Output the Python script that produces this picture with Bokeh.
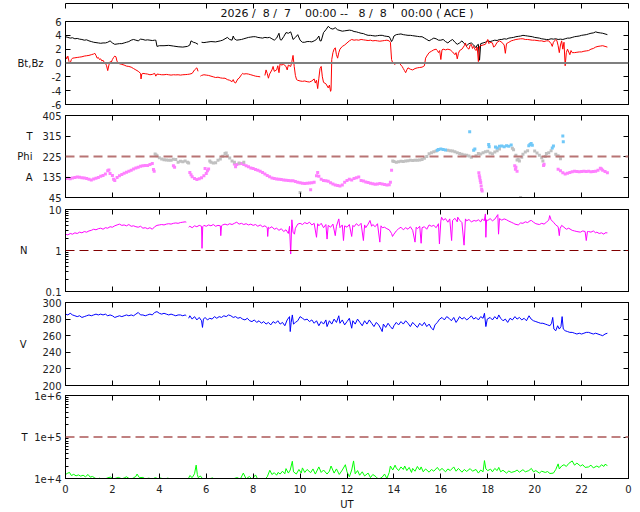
import numpy as np
from bokeh.plotting import figure
from bokeh.layouts import column
from bokeh.models import Range1d, LinearAxis, LogAxis, FixedTicker, Span, Title
from bokeh.embed import file_html
from bokeh.resources import INLINE

nan = float("nan")
FONT = "DejaVu Sans"
NB = "\u00a0"

TITLE = ("2026 /" + NB + " 8 /" + NB + " 7 " + NB + " " + NB + "00:00 --" + NB + " " + NB + "8 /" + NB + " 8 "
         + NB + " " + NB + "00:00 ( ACE )")
X_TICKS = [0, 2, 4, 6, 8, 10, 12, 14, 16, 18, 20, 22, 24]
X_LABELS = {24: "0"}

# ---------------- Bt (black) ----------------
bt_t = [0.0,0.1,0.2,0.3,0.4,0.5,0.6,0.7,0.8,0.9,1.0,1.1,1.2,1.3,1.4,1.5,1.6,1.7,1.8,1.9,2.0,2.1,2.2,2.3,2.4,2.5,2.6,2.7,2.8,2.9,
        3.0,3.1,3.2,3.3,3.4,3.5,3.6,3.7,3.8,3.85,3.9,4.0,4.2,4.4,4.6,4.8,5.0,5.2,5.3,5.35,5.45,5.55,5.65,5.72,5.8,5.9,6.0,6.2,6.4,6.6,
        6.7,6.8,6.9,7.0,7.1,7.15,7.2,7.3,7.4,7.5,7.6,7.7,7.8,7.9,8.0,8.1,8.2,8.3,8.4,8.5,8.6,8.7,8.8,8.9,9.0,9.1,9.15,9.2,9.3,9.4,
        9.5,9.6,9.65,9.7,9.8,9.9,10.0,10.1,10.2,10.3,10.4,10.5,10.6,10.7,10.8,10.85,10.9,11.0,11.1,11.2,11.3,11.4,11.5,11.6,11.7,11.8,11.9,12.0,12.1,12.2,
        12.3,12.4,12.5,12.6,12.7,12.8,12.9,13.0,13.1,13.2,13.3,13.4,13.5,13.6,13.7,13.8,13.85,13.9,13.95,14.0,14.1,14.2,14.3,14.4,14.5,14.6,14.7,14.8,14.9,15.0,
        15.1,15.2,15.3,15.4,15.5,15.6,15.7,15.8,15.9,16.0,16.1,16.2,16.3,16.4,16.5,16.6,16.7,16.8,16.9,17.0,17.1,17.2,17.3,17.4,17.5,17.55,17.6,17.65,17.7,17.8,
        17.9,18.0,18.1,18.2,18.3,18.4,18.5,18.6,18.7,18.8,18.9,19.0,19.1,19.2,19.3,19.4,19.5,19.6,19.7,19.8,19.9,20.0,20.1,20.2,20.3,20.4,20.5,20.6,20.7,20.8,
        20.9,21.0,21.1,21.2,21.3,21.4,21.5,21.6,21.7,21.8,21.9,22.0,22.1,22.2,22.3,22.4,22.5,22.6,22.7,22.8,22.9,23.0,23.1]
bt = [3.8,3.7,3.6,3.65,3.5,3.55,3.45,3.4,3.3,3.35,3.2,3.1,3.0,2.95,2.9,2.85,2.9,2.9,3.0,3.2,2.9,2.7,2.75,2.8,2.8,2.9,3.0,3.1,3.3,3.4,
      3.3,3.2,3.45,3.4,3.3,3.35,3.3,3.25,3.3,3.3,2.4,2.5,2.5,2.55,2.45,2.35,2.3,2.4,2.6,3.2,3.0,2.9,2.7,nan,3.0,2.95,3.0,3.1,3.05,3.2,
      3.3,3.5,3.7,3.4,3.3,3.9,3.5,3.3,3.35,3.4,3.5,3.6,3.7,3.75,3.8,3.8,3.7,3.65,3.6,3.7,3.65,3.7,3.5,3.3,3.6,4.3,3.4,3.3,3.8,4.4,
      4.3,4.5,4.0,3.4,3.7,4.1,3.3,3.0,3.0,3.1,3.1,3.05,3.2,3.4,3.9,3.2,3.2,4.4,4.8,5.3,5.0,4.9,5.1,4.8,4.7,4.6,4.65,4.7,4.75,4.7,
      4.55,4.5,4.4,4.3,4.25,4.1,4.0,4.0,3.95,3.9,3.95,4.0,4.0,3.9,3.85,3.8,3.5,3.1,3.4,3.9,4.1,4.15,4.2,4.1,4.05,4.0,4.0,3.95,3.9,3.85,
      3.8,3.8,3.6,3.4,3.2,3.4,3.6,3.5,3.3,3.3,3.4,3.1,2.9,3.2,3.4,3.0,2.7,2.9,3.2,2.8,2.5,2.8,2.9,2.6,2.2,2.6,2.7,0.4,2.8,2.9,
      3.0,3.2,3.1,3.2,3.3,3.25,3.4,3.4,3.5,3.45,3.6,3.65,3.7,3.8,3.85,3.9,4.0,3.95,3.9,3.85,3.8,3.7,3.65,3.6,3.5,3.45,3.4,3.4,3.5,3.45,
      3.5,3.4,3.45,3.4,3.5,3.6,3.6,3.7,3.8,3.85,3.9,4.0,4.05,4.1,4.2,4.3,4.35,4.5,4.4,4.35,4.3,4.2,4.1]

# ---------------- Bz (red) ----------------
bz_t = [0.0,0.05,0.1,0.15,0.2,0.25,0.3,0.4,0.5,0.6,0.7,0.8,0.9,1.0,1.1,1.2,1.25,1.3,1.35,1.4,1.45,1.5,1.55,1.6,1.65,1.7,1.75,1.8,1.85,1.9,
        1.95,2.0,2.05,2.1,2.15,2.2,2.3,2.4,2.5,2.6,2.7,2.8,2.9,3.0,3.1,3.2,3.22,3.25,3.3,3.4,3.5,3.6,3.7,3.8,3.85,3.9,4.0,4.1,4.2,4.3,
        4.4,4.5,4.6,4.7,4.8,4.9,5.0,5.1,5.2,5.3,5.4,5.5,5.6,5.65,5.7,5.75,5.8,5.9,6.0,6.1,6.2,6.3,6.4,6.5,6.6,6.7,6.8,6.9,7.0,7.1,
        7.15,7.2,7.25,7.3,7.35,7.4,7.5,7.55,7.6,7.7,7.8,7.9,8.0,8.1,8.2,8.3,8.4,8.5,8.55,8.6,8.65,8.7,8.8,8.85,8.9,9.0,9.05,9.1,9.15,9.2,
        9.3,9.4,9.45,9.5,9.6,9.65,9.7,9.75,9.8,9.85,9.9,10.0,10.1,10.2,10.3,10.4,10.5,10.6,10.65,10.7,10.75,10.8,10.85,10.9,10.95,11.0,11.1,11.2,11.25,11.3,
        11.32,11.35,11.4,11.45,11.5,11.55,11.6,11.65,11.7,11.8,11.9,12.0,12.1,12.2,12.3,12.4,12.5,12.6,12.7,12.8,12.9,13.0,13.1,13.2,13.3,13.4,13.5,13.6,13.7,13.8,
        13.85,13.9,13.95,14.0,14.05,14.1,14.15,14.2,14.3,14.35,14.4,14.45,14.5,14.55,14.6,14.7,14.8,14.9,15.0,15.1,15.2,15.3,15.35,15.4,15.5,15.6,15.7,15.8,15.85,15.9,
        15.95,16.0,16.05,16.1,16.2,16.3,16.4,16.5,16.6,16.65,16.7,16.75,16.8,16.9,17.0,17.05,17.1,17.2,17.25,17.3,17.35,17.4,17.45,17.5,17.55,17.6,17.65,17.7,17.8,17.9,
        18.0,18.05,18.1,18.2,18.25,18.3,18.4,18.5,18.6,18.7,18.75,18.8,18.9,19.0,19.1,19.2,19.3,19.4,19.5,19.6,19.7,19.8,19.9,20.0,20.1,20.2,20.3,20.4,20.5,20.6,
        20.7,20.75,20.8,20.9,20.95,21.0,21.05,21.1,21.15,21.2,21.25,21.3,21.35,21.4,21.45,21.5,21.55,21.6,21.7,21.8,21.9,22.0,22.1,22.2,22.3,22.4,22.5,22.6,22.7,22.8,
        22.9,23.0,23.1]
bz = [1.0,0.6,1.0,0.2,0.0,0.5,0.7,0.75,0.8,0.85,0.9,1.0,1.05,1.1,1.2,1.3,1.4,1.1,0.7,0.8,0.5,0.6,0.3,0.4,0.1,0.0,-0.4,-1.1,-0.3,0.2,
      0.1,0.5,0.8,1.0,0.9,0.2,-0.1,-0.2,-0.3,-0.45,-0.5,-0.6,-0.8,-1.0,-1.2,-1.5,-2.3,-1.6,-1.5,-1.55,-1.6,-1.7,-1.65,-1.5,-1.9,-1.6,-1.65,-1.7,-1.7,-1.65,
      -1.7,-1.75,-1.7,-1.72,-1.7,-1.75,-1.7,-1.68,-1.65,-1.6,-1.5,-1.0,-0.7,-1.2,nan,-1.9,-1.8,-1.7,-1.75,-1.8,-1.9,-2.0,-2.1,-2.05,-2.15,-2.2,-2.2,-2.4,-2.5,-2.7,
      -2.4,-2.8,-2.9,-2.6,-2.3,-2.2,-1.7,-1.5,-1.6,-1.55,-1.6,-1.7,-1.8,-1.9,-1.95,-2.0,nan,-1.8,-1.0,-1.5,-2.2,-1.6,-1.0,-0.5,-1.2,-1.0,-0.4,-1.4,0.0,-0.3,
      -0.2,-0.5,-1.0,-0.3,-0.5,0.2,1.1,-0.5,-1.8,-2.4,-2.5,-2.6,-2.65,-2.6,-2.7,-2.75,-2.6,-2.3,-2.9,-2.5,-3.7,-2.2,-0.8,-0.5,-2.0,-2.8,-3.0,-3.6,-3.2,-4.1,
      -3.9,0.5,1.5,2.0,2.2,1.2,0.7,1.5,2.0,2.4,2.6,2.9,3.2,3.4,3.3,3.35,3.3,3.4,3.35,3.3,3.25,3.3,3.2,3.25,3.2,3.15,3.2,3.25,3.3,3.2,
      3.0,0.5,0.0,-0.1,-0.2,0.1,-0.1,0.1,-0.3,-0.5,-0.8,-1.1,-1.4,-1.0,-0.7,-0.9,-1.0,-0.8,-0.7,-0.65,-0.6,-0.4,0.7,1.0,1.5,1.7,1.9,2.0,1.8,1.5,
      1.8,0.5,1.9,2.0,1.9,2.0,1.9,1.6,1.2,1.5,0.6,1.4,1.8,2.0,2.5,2.9,2.3,2.0,2.6,2.7,2.1,2.4,2.0,1.8,2.3,0.2,2.4,2.5,2.6,2.7,
      3.4,2.8,3.0,2.9,2.3,2.4,3.0,3.2,3.0,2.6,1.4,2.8,3.0,3.2,3.3,3.4,3.45,3.5,3.5,3.4,3.4,3.35,3.3,3.3,3.25,3.2,3.2,3.1,3.2,3.2,
      2.8,2.4,3.0,3.4,3.2,2.5,1.5,2.6,3.2,2.0,3.0,-0.4,1.5,2.0,1.6,1.2,1.8,1.5,1.5,1.55,1.6,1.6,1.7,1.75,1.8,2.0,2.1,2.3,2.4,2.45,
      2.5,2.4,2.3]

# ---------------- Phi (three colour groups) ----------------
phi_m_t = [0.0,0.1,0.2,0.3,0.4,0.5,0.6,0.7,0.8,0.9,1.0,1.1,1.2,1.3,1.4,1.5,1.6,1.7,1.8,1.85,1.9,2.0,2.05,2.1,2.2,2.3,2.4,2.5,2.6,2.7,
           2.8,2.9,3.0,3.1,3.2,3.3,3.4,3.5,3.6,3.7,3.75,3.78,4.6,4.65,5.3,5.35,5.4,5.5,5.6,5.7,5.8,5.9,5.95,6.0,6.05,6.1,7.2,7.25,7.3,7.4,
           7.5,7.6,7.7,7.8,7.9,8.0,8.1,8.2,8.3,8.4,8.5,8.6,8.7,8.8,8.9,9.0,9.1,9.2,9.3,9.4,9.5,9.6,9.7,9.8,9.9,10.0,10.1,10.2,10.3,10.4,
           10.45,10.5,10.6,10.7,10.75,10.8,10.9,11.0,11.1,11.2,11.3,11.4,11.5,11.6,11.7,11.8,11.9,12.0,12.1,12.2,12.3,12.4,12.5,12.6,12.7,12.8,12.9,13.0,13.1,13.2,
           13.3,13.4,13.5,13.6,13.7,13.8,13.85,13.9,17.62,17.64,17.66,17.68,17.7,17.72,17.74,17.76,19.15,19.18,19.2,19.25,20.38,20.4,21.0,21.1,21.2,21.3,21.4,21.5,
           21.6,21.7,21.8,21.9,22.0,22.1,22.2,22.3,22.4,22.5,22.6,22.7,22.8,22.85,22.9,23.0,23.1]
phi_m = [128,130,127,131,133,135,134,132,131,128,125,122,126,130,133,138,142,148,162,166,150,142,125,120,133,140,146,152,156,160,
         165,170,174,178,182,184,186,186,190,194,168,160,184,178,155,145,136,128,124,127,132,140,172,150,162,170,192,180,190,193,
         194,190,184,180,175,172,168,165,160,155,148,142,136,131,128,126,125,124,122,121,120,119,118,115,112,110,108,107,108,109,
         79,110,112,140,155,138,125,120,118,116,110,104,100,98,96,100,112,120,125,122,128,132,135,120,117,113,111,108,105,103,
         104,106,104,102,100,101,112,165,154,140,132,120,111,95,80,74,184,169,178,160,185,191,169,162,154,148,152,155,
         158,160,159,158,159,160,159,160,158,159,160,165,173,170,165,159,154]
phi_g_t = [3.82,3.86,3.9,4.0,4.1,4.2,4.3,4.4,4.5,4.6,4.7,4.8,4.9,5.0,5.1,5.2,5.25,6.15,6.2,6.3,6.4,6.5,6.6,6.7,6.8,6.85,6.9,7.0,7.1,7.2,
           7.4,7.6,10.0,13.95,14.0,14.1,14.2,14.3,14.4,14.5,14.6,14.7,14.8,14.9,15.0,15.1,15.2,15.3,15.4,15.5,15.6,15.7,15.8,16.3,16.4,16.5,16.6,16.7,16.8,16.9,
           17.0,17.1,17.2,17.3,17.5,17.6,17.7,17.8,17.9,18.0,18.1,18.2,18.3,18.4,18.5,19.05,19.1,19.2,19.25,19.3,19.35,19.4,19.45,19.5,19.6,19.7,20.0,20.1,20.2,20.3,
           20.35,20.45,20.5,20.6,20.7,20.9,21.0,21.1]
phi_g = [236,232,228,220,214,211,210,208,209,213,212,200,204,202,205,200,196,205,200,196,198,208,214,226,238,240,228,218,205,200,
         196,200,67,205,203,200,202,204,203,205,206,208,207,209,208,210,212,217,225,237,242,246,249,252,250,249,246,242,238,235,
         232,230,227,222,228,238,236,242,246,248,240,237,245,250,258,261,255,230,210,213,205,45,222,235,245,250,249,240,230,220,
         205,225,238,242,250,235,228,215]
phi_b_t = [15.85,15.9,16.0,16.1,16.2,17.23,17.4,17.45,18.04,18.06,18.33,18.4,18.5,18.6,18.7,18.8,18.9,19.0,19.75,19.8,19.85,19.9,20.75,20.8,21.2,21.22]
phi_b = [252,256,258,256,254,334,252,258,278,268,267,262,270,271,268,272,270,275,272,278,282,274,262,271,315,290]

# ---------------- N ----------------
n_t = [0.0,0.1,0.2,0.3,0.4,0.5,0.6,0.7,0.8,0.9,1.0,1.1,1.2,1.3,1.4,1.5,1.6,1.7,1.8,1.9,2.0,2.1,2.2,2.3,2.4,2.5,2.6,2.7,2.8,2.9,
       3.0,3.1,3.2,3.3,3.4,3.5,3.6,3.7,3.8,3.9,4.0,4.1,4.2,4.3,4.4,4.5,4.6,4.7,4.8,4.9,5.0,5.1,5.15,5.2,5.25,5.3,5.4,5.5,5.6,5.7,
       5.8,5.82,5.85,5.9,6.0,6.1,6.2,6.3,6.4,6.5,6.6,6.62,6.65,6.7,6.8,6.9,7.0,7.1,7.2,7.3,7.4,7.5,7.6,7.7,7.8,7.9,8.0,8.1,8.2,8.3,
       8.4,8.5,8.6,8.62,8.65,8.7,8.8,8.9,9.0,9.1,9.2,9.3,9.4,9.5,9.55,9.6,9.65,9.7,9.76,9.8,9.9,10.0,10.1,10.2,10.3,10.4,10.5,10.6,10.7,10.75,
       10.8,10.9,11.0,11.1,11.15,11.2,11.3,11.4,11.5,11.55,11.65,11.7,11.8,11.85,11.9,12.0,12.1,12.2,12.25,12.3,12.4,12.5,12.6,12.7,12.75,12.8,12.9,12.98,13.05,13.1,
       13.2,13.3,13.4,13.45,13.5,13.6,13.7,13.8,13.9,13.94,14.0,14.1,14.2,14.3,14.4,14.5,14.6,14.7,14.8,14.9,14.95,15.0,15.1,15.16,15.2,15.3,15.4,15.5,15.6,15.7,
       15.8,15.9,15.94,16.0,16.03,16.1,16.2,16.3,16.38,16.46,16.5,16.6,16.7,16.72,16.8,16.9,16.99,17.05,17.1,17.2,17.3,17.42,17.5,17.6,17.7,17.77,17.85,17.9,17.92,17.95,
       18.0,18.1,18.2,18.3,18.43,18.46,18.5,18.6,18.7,18.8,18.9,19.0,19.1,19.16,19.3,19.4,19.5,19.6,19.7,19.8,19.86,19.95,20.05,20.2,20.3,20.4,20.5,20.6,20.64,20.7,
       20.8,20.9,21.0,21.05,21.08,21.15,21.25,21.35,21.45,21.6,21.7,21.8,21.95,22.05,22.15,22.2,22.25,22.3,22.4,22.5,22.6,22.65,22.75,22.85,22.95,23.0,23.1]
n = [2.5,2.4,2.6,2.5,2.7,2.6,2.8,2.7,2.9,2.8,3.0,3.1,3.3,3.2,3.4,3.5,3.3,3.6,3.5,3.8,3.7,4.0,4.2,4.4,4.1,4.2,4.0,4.3,3.9,4.0,
     3.8,3.7,3.9,3.5,3.6,3.4,3.6,3.3,3.8,4.1,4.2,4.3,4.2,4.4,4.5,4.4,4.6,4.7,4.6,4.8,4.9,5.0,4.9,nan,3.7,3.9,3.6,4.0,3.8,4.1,
     3.9,1.13,3.8,4.1,3.9,4.2,4.0,4.3,3.9,4.1,4.0,2.3,4.0,4.2,4.4,4.2,4.5,4.3,4.6,4.9,4.4,4.6,4.3,4.5,4.2,4.4,4.1,4.3,3.9,4.2,
     3.8,4.0,3.6,2.2,3.7,3.5,3.8,3.3,3.5,3.1,3.4,2.9,3.2,2.6,3.9,0.82,5.6,2.8,2.5,3.5,4.4,4.6,4.3,4.8,4.5,4.9,4.2,4.6,2.1,4.5,
     4.0,4.6,3.6,4.3,1.9,4.1,3.7,4.4,2.3,3.9,5.9,3.6,4.2,1.75,4.0,3.7,4.3,2.2,4.1,3.8,4.5,4.0,4.6,1.75,4.2,3.6,4.4,5.4,3.9,4.3,
     3.8,4.5,1.6,4.0,3.6,3.7,3.4,3.2,2.6,2.2,2.5,3.0,3.4,3.7,3.2,3.6,3.3,3.8,3.1,1.6,3.7,3.4,3.9,1.5,3.6,3.8,3.3,4.2,3.9,4.1,
     3.6,4.5,1.45,5.2,6.5,5.5,6.0,4.9,5.9,1.75,5.4,6.1,5.0,6.5,5.5,4.8,1.35,5.9,5.3,5.7,5.0,5.4,5.2,5.6,5.0,5.9,5.3,7.8,2.1,5.6,
     5.4,6.0,5.3,5.8,7.5,2.5,6.0,5.5,5.9,5.6,5.2,4.9,4.6,4.4,4.2,4.7,4.6,5.0,4.8,5.3,5.4,4.9,4.5,4.3,4.6,4.4,4.9,5.5,7.1,5.6,
     4.9,4.2,3.8,2.3,3.4,4.1,3.7,3.3,3.5,3.1,3.0,2.9,2.8,3.0,2.9,1.75,2.9,2.9,2.8,3.0,2.7,2.8,2.6,2.7,2.5,2.7,2.7]

# ---------------- V ----------------
v_t = [0.0,0.1,0.2,0.3,0.4,0.5,0.6,0.7,0.8,0.9,1.0,1.1,1.2,1.3,1.4,1.5,1.6,1.7,1.8,1.9,2.0,2.1,2.2,2.3,2.4,2.5,2.6,2.7,2.8,2.9,
       3.0,3.1,3.2,3.3,3.4,3.5,3.6,3.7,3.8,3.9,4.0,4.1,4.2,4.3,4.4,4.5,4.6,4.7,4.8,4.9,5.0,5.1,5.15,5.2,5.25,5.3,5.4,5.5,5.6,5.7,
       5.8,5.84,5.88,5.95,6.05,6.15,6.25,6.35,6.45,6.55,6.65,6.75,6.85,6.95,7.05,7.15,7.25,7.35,7.45,7.55,7.65,7.75,7.85,7.95,8.05,8.15,8.25,8.35,8.45,8.55,
       8.65,8.75,8.85,8.95,9.05,9.15,9.25,9.35,9.45,9.55,9.58,9.62,9.67,9.72,9.8,9.9,10.0,10.1,10.2,10.3,10.4,10.5,10.6,10.7,10.8,10.9,11.0,11.1,11.15,11.25,
       11.35,11.45,11.55,11.65,11.7,11.8,11.9,12.0,12.1,12.2,12.25,12.35,12.45,12.55,12.65,12.75,12.85,12.95,13.05,13.15,13.25,13.35,13.45,13.5,13.55,13.65,13.75,13.85,13.94,14.0,
       14.1,14.2,14.3,14.4,14.5,14.6,14.7,14.8,14.9,15.0,15.1,15.2,15.3,15.4,15.5,15.6,15.68,15.75,15.85,15.95,16.05,16.15,16.25,16.35,16.45,16.55,16.65,16.72,16.8,16.9,
       17.0,17.1,17.2,17.3,17.4,17.5,17.6,17.7,17.8,17.86,17.92,17.98,18.1,18.2,18.3,18.4,18.47,18.55,18.65,18.75,18.85,18.95,19.05,19.16,19.25,19.35,19.45,19.55,19.65,19.76,
       19.85,19.95,20.05,20.15,20.25,20.35,20.45,20.55,20.65,20.72,20.77,20.82,20.9,20.98,21.05,21.12,21.17,21.22,21.3,21.4,21.5,21.6,21.7,21.8,21.9,22.0,22.1,22.2,22.3,22.4,
       22.5,22.6,22.7,22.8,22.9,23.0,23.1]
v = [286,285,287,285,284,283,284,282,283,284,285,284,285,286,285,286,285,286,284,285,284,282,283,284,283,284,285,284,285,284,
     286,288,285,285,284,285,286,285,288,289,287,286,287,286,285,286,285,284,285,285,284,285,284,nan,281,284,280,283,279,282,
     278,270,280,282,279,281,280,283,281,283,282,284,283,285,284,282,283,281,282,280,279,281,278,277,279,276,278,275,277,274,
     276,273,277,275,278,274,276,272,279,283,265,276,285,274,276,278,283,281,279,280,277,279,275,278,272,277,274,279,271,278,
     274,280,276,284,275,279,273,277,281,269,278,274,280,276,272,278,274,279,275,271,276,273,268,265,274,270,275,271,268,272,
     276,273,277,274,278,275,271,276,273,270,275,272,276,271,274,269,267,273,276,280,282,279,283,281,278,282,276,279,283,280,
     282,279,281,284,280,282,279,283,281,287,271,280,282,279,283,280,285,281,278,280,276,281,279,283,280,282,279,281,278,284,
     280,278,277,276,275,275,274,273,272,275,282,268,266,272,268,271,283,268,266,265,264,264,263,262,263,262,263,264,264,263,
     262,263,262,261,260,262,263]

# ---------------- Temperature ----------------
tp_t = [0.0,0.1,0.17,0.25,0.35,0.45,0.55,0.65,0.75,0.85,0.96,1.05,1.15,1.25,1.35,1.45,1.57,1.7,1.8,1.92,2.05,2.15,2.26,2.4,2.5,2.6,2.7,2.8,2.9,3.0,
        3.05,3.15,3.3,3.4,3.55,3.7,3.83,3.95,4.05,4.2,4.35,4.5,4.65,4.9,5.25,5.3,5.4,5.5,5.57,5.62,5.66,5.75,5.85,6.0,6.27,6.4,6.8,7.0,7.32,7.45,
        7.58,7.7,7.84,7.95,8.1,8.2,8.5,8.6,8.71,8.8,8.9,9.0,9.06,9.15,9.25,9.35,9.4,9.5,9.58,9.67,9.72,9.84,9.95,10.05,10.1,10.2,10.3,10.45,10.55,10.65,
        10.8,10.9,11.0,11.15,11.25,11.32,11.45,11.55,11.67,11.8,11.93,12.0,12.1,12.2,12.28,12.35,12.45,12.54,12.65,12.75,12.9,13.0,13.1,13.24,13.35,13.5,13.6,13.7,13.8,13.85,
        13.95,14.05,14.1,14.2,14.3,14.4,14.46,14.55,14.65,14.75,14.8,14.9,15.0,15.1,15.16,15.25,15.35,15.5,15.6,15.7,15.85,15.95,16.05,16.2,16.3,16.4,16.55,16.65,16.75,16.9,
        17.0,17.1,17.25,17.35,17.5,17.6,17.7,17.8,17.86,17.92,18.0,18.12,18.2,18.3,18.4,18.47,18.55,18.65,18.8,18.9,19.0,19.16,19.25,19.35,19.5,19.6,19.75,19.86,19.95,20.05,
        20.2,20.3,20.45,20.55,20.65,20.8,20.9,21.0,21.05,21.15,21.25,21.35,21.45,21.6,21.7,21.8,21.95,22.05,22.15,22.3,22.4,22.5,22.65,22.75,22.85,22.95,23.0,23.1]
tp = [12500,13500,14000,11800,12600,11600,12200,11400,12000,11000,12500,10800,11200,10300,9600,10200,9500,9800,10400,10800,9700,10200,10600,9800,10300,11000,10100,9600,10400,11200,
      12800,10500,10600,9800,10200,9700,10500,9800,10300,9600,10200,9800,9500,nan,10200,11800,10500,13000,21000,12500,10500,11500,9800,9500,10300,9400,9600,9300,10500,9600,
      13500,9800,11200,9700,12200,9500,9600,11000,15800,12500,13800,12000,14000,12800,15000,13000,17300,13500,16000,26000,14500,12800,16500,13500,18000,14000,16500,13800,17000,12800,
      19000,14000,16000,12800,15000,20000,13500,17000,12500,16000,21500,14500,11000,16000,26500,13000,15500,12000,14500,11500,13500,10500,12500,11000,9500,10800,12800,10000,14000,20000,
      16000,21000,18000,15500,19000,16500,20000,15500,18500,14000,17500,15000,19500,16000,19000,14500,17000,14200,16500,15000,18500,15500,17500,14500,17000,15500,19000,15000,17500,14200,
      16500,14800,17300,15000,16500,13500,16000,14500,27000,17000,15500,16800,14500,17500,15500,18500,14500,15800,13500,15200,14000,14800,16000,14200,16300,14500,15500,17500,14500,15500,
      13500,15000,14000,14700,13200,13500,16500,22500,17000,20000,21500,19500,23000,26500,21000,23500,20000,21500,18500,19000,21000,18000,20000,18500,21500,19500,22000,20500]


def base_fig(height, top, bottom, yr, log=False):
    p = figure(width=636, height=height, x_range=Range1d(0, 24), y_range=Range1d(*yr),
               y_axis_type="log" if log else "linear",
               x_axis_location=None, y_axis_location=None,
               output_backend="svg", toolbar_location=None,
               min_border_left=65, min_border_right=8,
               min_border_top=top, min_border_bottom=bottom)
    p.grid.visible = False
    p.outline_line_color = "black"
    p.outline_line_width = 1
    p.background_fill_color = "white"
    p.border_fill_color = "white"
    return p


def style_axis(ax, labels):
    ax.axis_line_color = "black"
    ax.major_tick_line_color = "black"
    ax.major_tick_in = 5
    ax.major_tick_out = 0
    ax.minor_tick_in = 3
    ax.minor_tick_out = 0
    ax.minor_tick_line_color = "black"
    ax.major_label_text_font = FONT
    if labels:
        ax.major_label_text_color = "#222222"
        ax.major_label_text_font_size = "10px"
        ax.major_label_standoff = 4
    else:
        ax.major_label_text_color = None
        ax.major_label_text_font_size = "1px"
        ax.major_label_standoff = 0


def add_axes(p, yticks, ylabels, side_text, side_standoff, log=False, minor=None, xlabels=False):
    AxisY = LogAxis if log else LinearAxis
    for loc in ("left", "right"):
        ax = AxisY(ticker=FixedTicker(ticks=yticks, minor_ticks=(minor or []) if loc == "left" else []))
        style_axis(ax, labels=(loc == "left"))
        if loc == "left":
            ax.major_label_overrides = ylabels
        if loc == "right" or not minor:
            ax.minor_tick_line_color = None
        p.add_layout(ax, loc)
    # outer left axis that carries the quantity names
    lab = AxisY(ticker=FixedTicker(ticks=list(side_text.keys())))
    lab.major_label_overrides = side_text
    lab.axis_line_color = None
    lab.major_tick_line_color = None
    lab.minor_tick_line_color = None
    lab.major_tick_out = 0
    lab.major_tick_in = 0
    lab.major_label_text_font = FONT
    lab.major_label_text_font_size = "10px"
    lab.major_label_text_color = "#111111"
    lab.major_label_standoff = side_standoff
    p.add_layout(lab, "left")
    for loc in ("above", "below"):
        ax = LinearAxis(ticker=FixedTicker(ticks=X_TICKS))
        style_axis(ax, labels=(loc == "below" and xlabels))
        ax.minor_tick_line_color = None
        if loc == "below" and xlabels:
            ax.major_label_overrides = X_LABELS
            ax.major_label_standoff = 6
            ax.axis_label = "UT"
            ax.axis_label_text_font = FONT
            ax.axis_label_text_font_size = "10px"
            ax.axis_label_text_font_style = "normal"
            ax.axis_label_text_color = "#111111"
            ax.axis_label_standoff = 3
        p.add_layout(ax, loc)


# Panel 1: Bt, Bz
p1 = base_fig(109, 21, 5, (-6, 6))
p1.add_layout(Title(text=TITLE, align="center", text_font=FONT, text_font_size="11px",
                    text_font_style="normal", text_color="#111111", standoff=3), "above")
add_axes(p1, [-6, -4, -2, 0, 2, 4, 6], {-6: "-6", -4: "-4", -2: "-2", 0: "0", 2: "2", 4: "4", 6: "6"},
         {0: "Bt,Bz"}, 5)
p1.add_layout(Span(location=0, dimension="width", line_color="#7f7f7f", line_width=2))
p1.line(bt_t, bt, line_color="black", line_width=1)
p1.line(bz_t, bz, line_color="#ff0000", line_width=1)

# Panel 2: Phi
p2 = base_fig(94, 6, 6, (45, 405))
add_axes(p2, [45, 135, 225, 315, 405], {45: "45", 135: "135", 225: "225", 315: "315", 405: "405"},
         {135: "A", 225: "Phi", 315: "T"}, 7)
p2.add_layout(Span(location=225, dimension="width", line_color="#b87474", line_width=2, line_dash="9 5"))
p2.scatter(phi_m_t, phi_m, size=3, marker="square", fill_color="#ff80ff", line_color=None)
p2.scatter(phi_g_t, phi_g, size=3, marker="square", fill_color="#c0c0c0", line_color=None)
p2.scatter(phi_b_t, phi_b, size=3, marker="square", fill_color="#70c8f8", line_color=None)

# Panel 3: N
minor_n = [0.2, 0.3, 0.4, 0.5, 0.6, 0.7, 0.8, 0.9, 2, 3, 4, 5, 6, 7, 8, 9]
p3 = base_fig(93, 6, 5, (0.1, 10), log=True)
add_axes(p3, [0.1, 1, 10], {0.1: "0.1", 1: "1", 10: "10"}, {1: "N"}, 15, log=True, minor=minor_n)
p3.add_layout(Span(location=1, dimension="width", line_color="#800000", line_width=1.2, line_dash="9 5"))
p3.line(n_t, n, line_color="#ff00ff", line_width=1)

# Panel 4: V
p4 = base_fig(94, 6, 5, (200, 300))
add_axes(p4, [200, 220, 240, 260, 280, 300], {200: "200", 220: "220", 240: "240", 260: "260", 280: "280", 300: "300"},
         {250: "V"}, 13)
p4.line(v_t, v, line_color="#0000ff", line_width=1)

# Panel 5: T
minor_t = [2e4, 3e4, 4e4, 5e4, 6e4, 7e4, 8e4, 9e4, 2e5, 3e5, 4e5, 5e5, 6e5, 7e5, 8e5, 9e5]
p5 = base_fig(122, 5, 34, (1e4, 1e6), log=True)
add_axes(p5, [1e4, 1e5, 1e6], {10000: "1e+4", 100000: "1e+5", 1000000: "1e+6"}, {100000: "T"}, 4,
         log=True, minor=minor_t, xlabels=True)
p5.add_layout(Span(location=1e5, dimension="width", line_color="#c08080", line_width=2, line_dash="9 5"))
p5.line(tp_t, tp, line_color="#00ff00", line_width=1)

layout = column(p1, p2, p3, p4, p5, spacing=0)
open("out.html", "w").write(file_html(layout, INLINE))
